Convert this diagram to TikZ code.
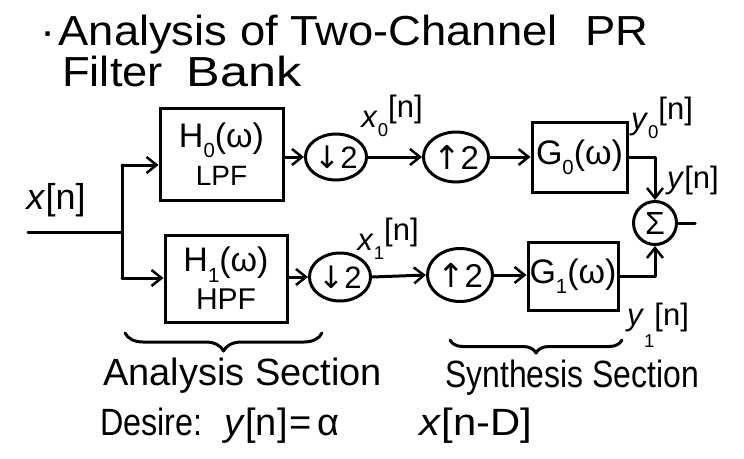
\documentclass[tikz,border=0pt]{standalone}
\usepackage{fontspec}
\setmainfont{Liberation Sans}
\newfontfamily\symf{DejaVu Sans}
\usetikzlibrary{arrows.meta,decorations.pathreplacing,shapes.geometric}
\newcommand\lsub[1]{\raisebox{-0.3em}{\scalebox{0.6}{#1}}}
\newcommand\hsup[1]{\raisebox{0.3em}{#1}}
\newcommand\fs[1]{\fontsize{#1}{#1}\selectfont}
\begin{document}
\begin{tikzpicture}[x=1pt,y=-1pt,
  ln/.style={line width=3pt,line cap=round,line join=round},
  arr/.style={ln,-{Straight Barb[length=10pt,width=16pt,line width=2.5pt]}},
  blk/.style={draw,line width=3pt,inner sep=0pt,align=center},
  rnd/.style={draw,line width=3pt,ellipse,inner sep=0pt},
  lbl/.style={inner sep=0pt},
  brc/.style={ln,decorate,decoration={brace,mirror,amplitude=#1}},
]
\useasboundingbox (0,0) rectangle (744,458);

% title
\node[lbl,anchor=base west,font=\fs{42}] (t1) at (40,45)
  {\scalebox{1.08}[1]{·\hspace{3pt}Analysis of Two-Channel\hspace{14pt} PR}};
\node[lbl,anchor=base west,font=\fs{42}] (t2) at (62,86)
  {\scalebox{1.08}[1]{Filter}\hspace{24pt}\scalebox{1.2}[1]{Bank}};

% blocks
\node[blk,minimum width=123pt,minimum height=92pt,font=\fs{34}] (H0) at (221.5,154)
  {H\lsub{0}(ω)\\[4pt]{\fs{28}LPF}};
\node[blk,minimum width=122pt,minimum height=87pt,font=\fs{34}] (H1) at (226,278.5)
  {H\lsub{1}(ω)\\[4pt]{\fs{30}HPF}};
\node[blk,minimum width=95pt,minimum height=70pt,font=\fs{34}] (G0) at (579.5,157)
  {G\lsub{0}(ω)};
\node[blk,minimum width=90pt,minimum height=68pt,font=\fs{34}] (G1) at (573,276)
  {G\lsub{1}(ω)};

% rate changers and adder
\node[rnd,minimum width=56pt,minimum height=46pt,font=\fs{31}] (d0) at (336,157) {{\symf ↓}2};
\node[rnd,minimum width=55pt,minimum height=48pt,font=\fs{31}] (d1) at (340,277) {{\symf ↓}2};
\node[rnd,minimum width=62pt,minimum height=50pt,font=\fs{33}] (u0) at (456,157) {{\symf ↑}2};
\node[rnd,minimum width=65pt,minimum height=53pt,font=\fs{33}] (u1) at (460,275) {{\symf ↑}2};
\node[rnd,minimum width=43pt,minimum height=43pt,font=\fs{32}] (sum) at (655,223) {Σ};

% connectors
\coordinate (in) at (28,232);
\coordinate (jn) at (122,232);
\coordinate (ja) at (122,165);
\coordinate (jb) at (122,278);
\coordinate (out) at (695,223);
\draw[ln] (in) -- (jn);
\draw[ln] (ja) -- (jb);
\draw[arr] (ja) -- (ja -| H0.west);
\draw[arr] (jb) -- (jb -| H1.west);
\draw[arr] (H0.east |- d0) -- (d0.west);
\draw[arr] (H1.east |- d1) -- (d1.west);
\draw[arr] (d0.east) -- (u0.west);
\draw[arr] (d1.east) -- (u1.west);
\draw[arr] (u0.east) -- (u0.east -| G0.west);
\draw[arr] (u1.east) -- (u1.east -| G1.west);
\draw[arr] (G0.east) -| (sum.north);
\draw[arr] (G1.east) -| (sum.south);
\draw[ln] (sum.east) -- (out);

% signal labels
\node[lbl,font=\fs{36}] (xin) at (56,200) {\textit{x}[n]};
\node[lbl,font=\fs{31}] (x0l) at (392,116) {\textit{x}\lsub{0}\hsup{[n]}};
\node[lbl,font=\fs{31}] (x1l) at (388,239) {\textit{x}\lsub{1}\hsup{[n]}};
\node[lbl,font=\fs{31}] (y0l) at (662,118) {\textit{y}\lsub{0}\hsup{[n]}};
\node[lbl,font=\fs{31}] (yl) at (693,180) {\textit{y}[n]};
\node[lbl,font=\fs{31}] (y1l) at (658,325) {\textit{y}\raisebox{-0.7em}{\scalebox{0.6}{1}}[n]};

% braces and section labels
\draw[brc=18pt] (125,333) -- (322,333);
\draw[brc=13pt] (450,340) -- (622,340);
\node[lbl,anchor=base west,font=\fs{38}] (an) at (103,385)
  {Analysis Section};
\node[lbl,anchor=base west,font=\fs{38}] (sy) at (445,387)
  {\scalebox{0.84}[1]{Synthesis Section}};
\node[lbl,anchor=base west,font=\fs{38}] (de) at (100,435)
  {\scalebox{0.85}[1]{Desire:}\hspace{22pt}\textit{y}[n]\hspace{2pt}=\hspace{6pt}α\hspace{80pt}\scalebox{1.1}[1]{\textit{x}[n-D]}};
\end{tikzpicture}
\end{document}
